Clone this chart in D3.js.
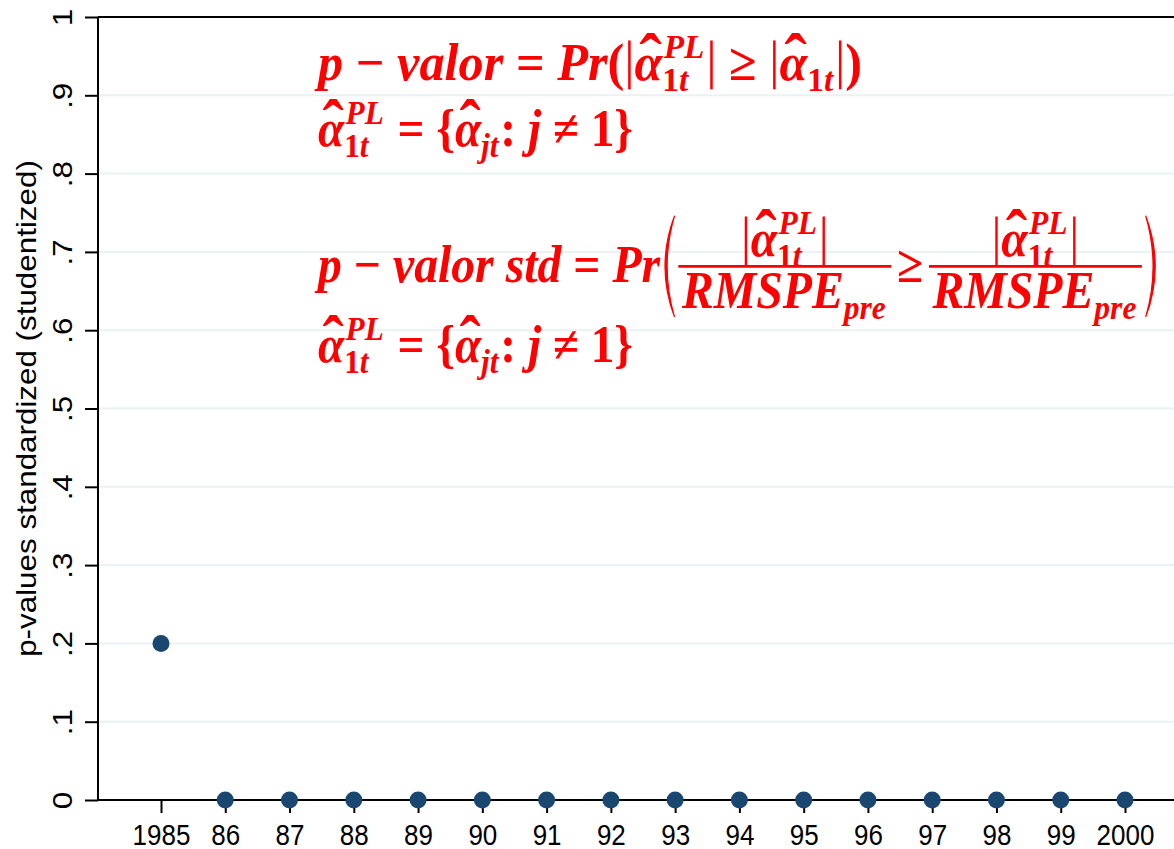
<!DOCTYPE html>
<html>
<head>
<meta charset="utf-8">
<script src="https://cdn.jsdelivr.net/npm/d3@7"></script>
<style>
  body { margin: 0; background: #fff; }
</style>
</head>
<body>
<svg id="chart" width="1174" height="849" font-family="Arial, 'Liberation Sans', sans-serif"></svg>
<script>
// data
const years = [1985, 1986, 1987, 1988, 1989, 1990, 1991, 1992, 1993, 1994, 1995, 1996, 1997, 1998, 1999, 2000];
const pvalues = [0.2, 0, 0, 0, 0, 0, 0, 0, 0, 0, 0, 0, 0, 0, 0, 0];
const xTickLabels = ["1985", "86", "87", "88", "89", "90", "91", "92", "93", "94", "95", "96", "97", "98", "99", "2000"];
const yTicks = [0, 0.1, 0.2, 0.3, 0.4, 0.5, 0.6, 0.7, 0.8, 0.9, 1];
const yTickLabels = ["0", ".1", ".2", ".3", ".4", ".5", ".6", ".7", ".8", ".9", "1"];
const yTitle = "p-values standardized (studentized)";

var plot = {left: 98, right: 1174, top: 17, bottom: 800};
var stretch = 1.12; // the picture is a bit taller than wide

var svg = d3.select("#chart");

var x = d3.scaleLinear().domain([1985, 2000]).range([161, 1125]);
var y = d3.scaleLinear().domain([0, 1]).range([plot.bottom, plot.top]);

// gridlines
svg.append("g").selectAll("line")
  .data(yTicks.filter(d => d > 0 && d < 1))
  .enter().append("line")
    .attr("x1", plot.left).attr("x2", plot.right)
    .attr("y1", d => y(d)).attr("y2", d => y(d))
    .attr("stroke", "#eaf2f3").attr("stroke-width", 2);

// top frame line
svg.append("line")
  .attr("x1", plot.left).attr("x2", plot.right)
  .attr("y1", y(1)).attr("y2", y(1))
  .attr("stroke", "#000").attr("stroke-width", 2);

// y axis
var yAxis = svg.append("g")
  .attr("transform", "translate(" + plot.left + ",0)")
  .call(d3.axisLeft(y).tickValues(yTicks).tickSize(13).tickFormat((d, i) => yTickLabels[i]));
yAxis.select(".domain").attr("stroke-width", 2).attr("d", "M0," + plot.top + "V" + plot.bottom);
yAxis.selectAll(".tick line").attr("stroke-width", 2);
yAxis.selectAll(".tick text")
  .attr("font-size", 28).attr("font-family", null)
  .attr("fill", "#000")
  .attr("x", null).attr("dy", null)
  .attr("text-anchor", "middle")
  .attr("transform", "translate(-26,0) rotate(-90) scale(" + stretch + ",1)");

// x axis
var xAxis = svg.append("g")
  .attr("transform", "translate(0," + plot.bottom + ")")
  .call(d3.axisBottom(x).tickValues(years).tickSize(13).tickFormat((d, i) => xTickLabels[i]));
xAxis.select(".domain").attr("stroke-width", 2).attr("d", "M" + plot.left + ",0H" + plot.right);
xAxis.selectAll(".tick line").attr("stroke-width", 2);
xAxis.selectAll(".tick text")
  .attr("font-size", 26).attr("font-family", null)
  .attr("fill", "#000").attr("y", null).attr("dy", null)
  .attr("transform", "translate(0,44.5) scale(1," + stretch + ")");

// y title
svg.append("text")
  .attr("transform", "translate(36," + ((plot.top + plot.bottom) / 2) + ") rotate(-90) scale(" + stretch + ",1)")
  .attr("text-anchor", "middle")
  .attr("font-size", 28)
  .text(yTitle);

// points
svg.append("g").selectAll("circle")
  .data(years)
  .enter().append("circle")
    .attr("cx", d => x(d))
    .attr("cy", (d, i) => y(pvalues[i]))
    .attr("r", 8.5)
    .attr("fill", "#1a476f");

// ---- red formulas ----
var mathFont = "'Liberation Serif', 'DejaVu Serif', serif";
var red = "#ff0000";
var mathStretch = 1.3;

function txt(g, x0, y0, s, size, italic, anchor) {
  var t = g.append("text")
    .attr("x", x0).attr("y", y0)
    .attr("font-family", mathFont)
    .attr("font-weight", "bold")
    .attr("font-style", italic ? "italic" : "normal")
    .attr("font-size", size)
    .attr("fill", red)
    .attr("text-anchor", anchor || "start")
    .text(s);
  return t.node().getComputedTextLength();
}

// draws parts at local baseline 0, returns advance width
function drawParts(g, parts, S) {
  var cx = 0;
  parts.forEach(function(p) {
    if (typeof p === "string") {
      cx += txt(g, cx, 0, p, S, true);
    } else if (p.u !== undefined) {
      cx += txt(g, cx, 0, p.u, S, false);
    } else if (p.sp !== undefined) {
      cx += p.sp * S;
    } else if (p.bar) {
      g.append("line").attr("x1", cx + 0.1 * S).attr("x2", cx + 0.1 * S)
        .attr("y1", -0.76 * S).attr("y2", 0.18 * S)
        .attr("stroke", red).attr("stroke-width", S * 0.05);
      cx += 0.2 * S;
    } else if (p.base !== undefined) {
      var w = txt(g, cx, 0, p.base, S, true);
      if (p.hat) {
        txt(g, cx + w * 0.58, 0.04 * S, "\u02C6", S * 1.35, false, "middle");
      }
      cx += w;
      var sw = 0, s;
      if (p.sup) {
        s = g.append("g").attr("transform", "translate(" + (cx + 0.03 * S) + "," + (-0.42 * S) + ")");
        sw = Math.max(sw, drawParts(s, p.sup, S * 0.66) + 0.03 * S);
      }
      if (p.sub) {
        s = g.append("g").attr("transform", "translate(" + cx + "," + (0.22 * S) + ")");
        sw = Math.max(sw, drawParts(s, p.sub, S * 0.66));
      }
      cx += sw + 0.04 * S;
    } else if (p.frac) {
      var gn = g.append("g"), gd = g.append("g");
      var wn = drawParts(gn, p.frac[0], S);
      var wd = drawParts(gd, p.frac[1], S);
      var fw = Math.max(wn, wd) + 0.15 * S;
      gn.attr("transform", "translate(" + (cx + (fw - wn) / 2) + "," + (-0.5 * S) + ")");
      gd.attr("transform", "translate(" + (cx + (fw - wd) / 2) + "," + (0.5 * S) + ")");
      g.append("line").attr("x1", cx).attr("x2", cx + fw)
        .attr("y1", -0.3 * S).attr("y2", -0.3 * S)
        .attr("stroke", red).attr("stroke-width", S * 0.05);
      cx += fw;
    } else if (p.paren) {
      // tall parenthesis drawn as a crescent
      var h = p.h * S, top = -0.3 * S - h / 2, bot = -0.3 * S + h / 2, bw = 0.2 * S;
      var left = p.paren === "(";
      var x0 = left ? cx + 0.3 * S : cx + 0.08 * S;
      var bulge = left ? -bw : bw;
      var th = 0.09 * S * (left ? 1 : -1);
      g.append("path")
        .attr("d", "M" + x0 + "," + top +
          "Q" + (x0 + bulge * 2) + "," + (top + h / 2) + " " + x0 + "," + bot +
          "Q" + (x0 + bulge * 2 + th) + "," + (top + h / 2) + " " + x0 + "," + top + "Z")
        .attr("fill", red).attr("stroke", red).attr("stroke-width", 1);
      cx += 0.38 * S;
    }
  });
  return cx;
}

var aPL = {base: "\u03B1", hat: true, sup: ["PL"], sub: [{u: "1"}, "t"]};
var a1t = {base: "\u03B1", hat: true, sub: [{u: "1"}, "t"]};
var ajt = {base: "\u03B1", hat: true, sub: ["jt"]};
var rmspe = {base: "RMSPE", sub: ["pre"]};
var sp = {sp: 0.25};

var line1 = ["p", sp, {u: "\u2212"}, sp, "valor", sp, {u: "="}, sp, "Pr", {u: "("}, {bar: 1}, aPL, {bar: 1},
  sp, {u: "\u2265"}, sp, {bar: 1}, a1t, {bar: 1}, {u: ")"}];
var line2 = [aPL, sp, {u: "="}, sp, {u: "{"}, ajt, {u: ":"}, sp, "j", sp, {u: "\u2260"}, sp, {u: "1}"}];
var line3 = ["p", sp, {u: "\u2212"}, sp, "valor std", sp, {u: "="}, sp, "Pr",
  {paren: "(", h: 1.95},
  {frac: [[{bar: 1}, aPL, {bar: 1}], [rmspe]]},
  {sp: 0.12}, {u: "\u2265"}, {sp: 0.12},
  {frac: [[{bar: 1}, aPL, {bar: 1}], [rmspe]]},
  {paren: ")", h: 1.95}];

// each line: start x, baseline, target width from the reference
var lines = [
  {parts: line1, x: 318, y: 80, w: 544},
  {parts: line2, x: 318, y: 146, w: 315},
  {parts: line3, x: 318, y: 282, w: 842},
  {parts: line2, x: 318, y: 362, w: 315}
];

var S = 40;
var f = svg.append("g");
lines.forEach(function(l) {
  var g = f.append("g");
  var w = drawParts(g, l.parts, S);
  g.attr("transform", "translate(" + l.x + "," + l.y + ") scale(" + (l.w / w) + "," + mathStretch + ")");
});
</script>
</body>
</html>
